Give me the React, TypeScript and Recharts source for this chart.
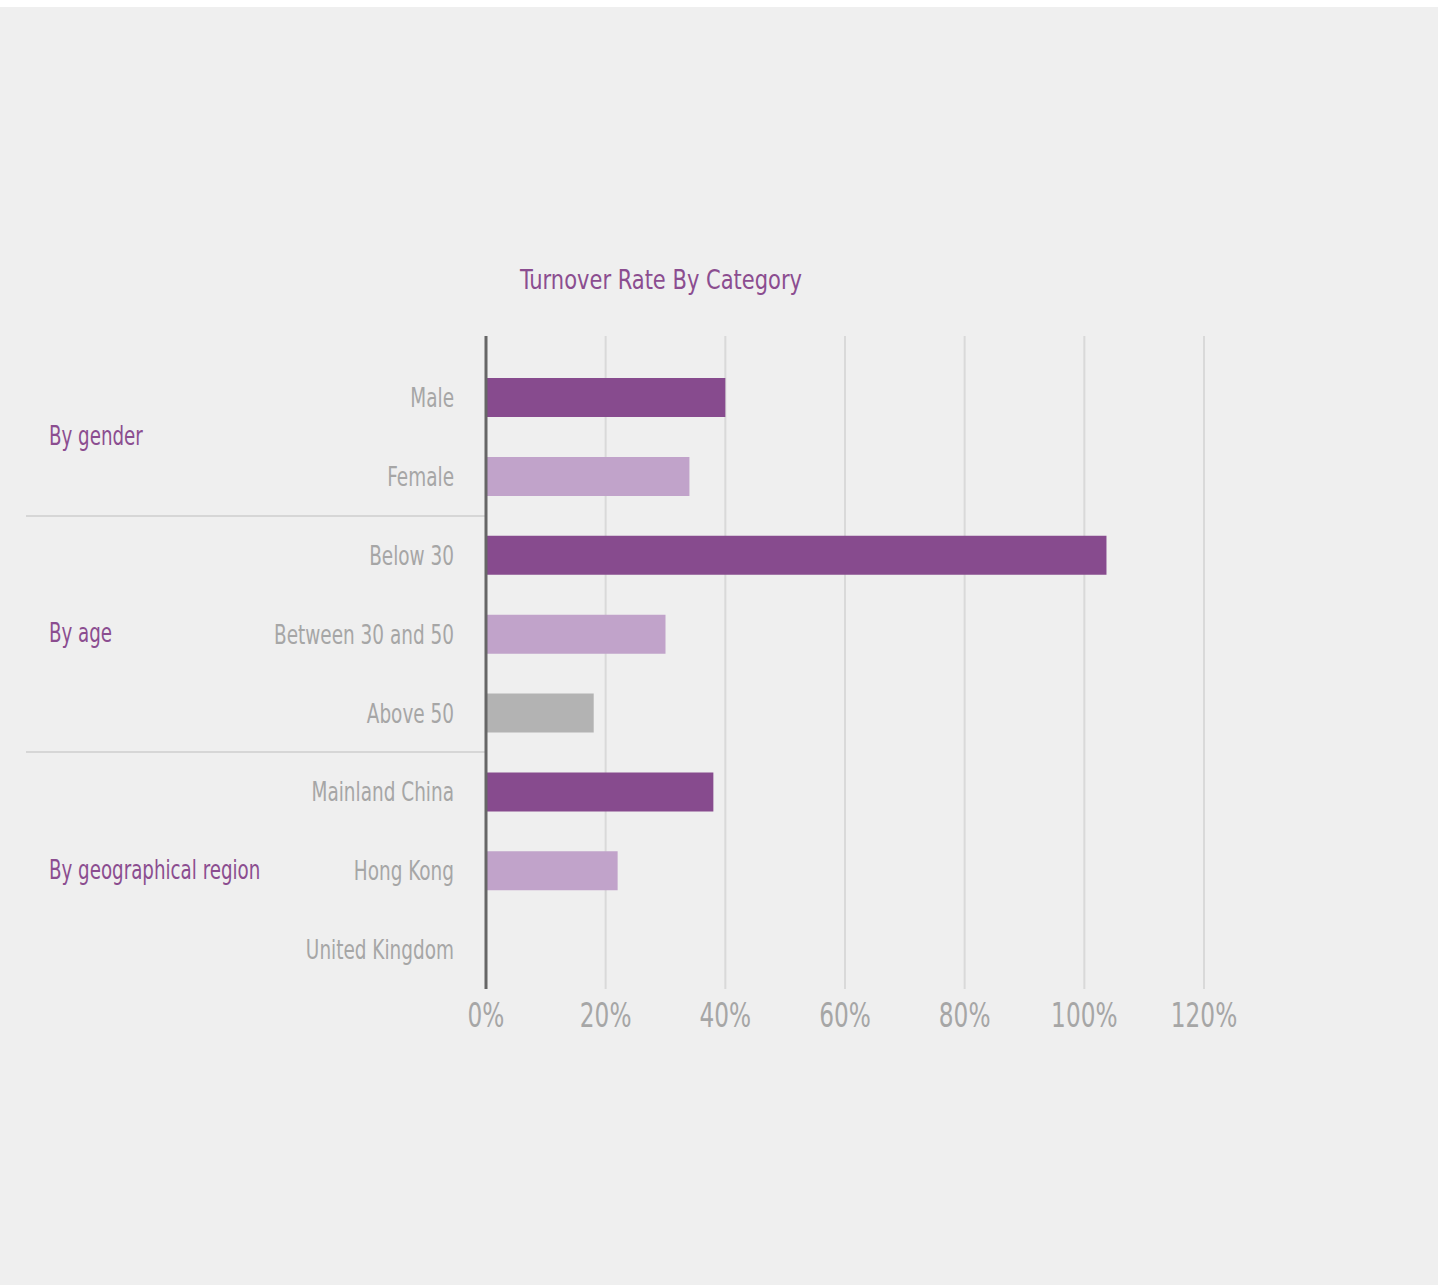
import { Bar, BarChart, CartesianGrid, Cell, XAxis, YAxis } from "recharts";

const categories = [
  "Male",
  "Female",
  "Below 30",
  "Between 30 and 50",
  "Above 50",
  "Mainland China",
  "Hong Kong",
  "United Kingdom",
];
const rates = [40, 34, 103.7, 30, 18, 38, 22, 0];
const shades = ["dark", "light", "dark", "light", "grey", "dark", "light", "light"];
const groups = ["By gender", "By age", "By geographical region"];
// index of the row each group label sits beside (fractional = between rows)
const groupRows = [0.5, 3, 6];
const groupBreaks = [2, 5];
const xTicks = [0, 20, 40, 60, 80, 100, 120];

const COLORS: Record<string, string> = {
  dark: "#874b8e",
  light: "#c1a3ca",
  grey: "#b3b3b3",
};

// no condensed helvetica offline, so squeeze DejaVu Sans Condensed a bit more
const FONT = "'DejaVu Sans Condensed', 'DejaVu Sans', sans-serif";
const PURPLE = "#8b4d90";
const GREY_TEXT = "#a6a6a6";
const SQUEEZE = 0.76;

const W = 1438;
const H = 1278;
const PLOT_TOP = 329;
const PLOT_BOTTOM = 982;
const PAD_TOP = 22;
const BAND = (PLOT_BOTTOM - PLOT_TOP - PAD_TOP) / categories.length;

const data = categories.map((name, i) => ({ name, rate: rates[i], shade: shades[i] }));

function CatTick({ x, y, payload }: any) {
  return (
    <text
      transform={`translate(${x},${y}) scale(${SQUEEZE},1)`}
      textAnchor="end"
      dy="0.355em"
      fill={GREY_TEXT}
      fontSize={27}
      fontFamily={FONT}
    >
      {payload.value}
    </text>
  );
}

function PctTick({ x, y, payload }: any) {
  return (
    <text
      transform={`translate(${x},${y}) scale(${SQUEEZE},1)`}
      textAnchor="middle"
      dy="0.71em"
      fill={GREY_TEXT}
      fontSize={34}
      fontFamily={FONT}
    >
      {`${payload.value}%`}
    </text>
  );
}

export default function App() {
  return (
    <div
      style={{
        position: "absolute",
        left: 0,
        top: 7,
        width: W,
        height: H,
        background: "#efefef",
        fontFamily: FONT,
      }}
    >
      <div
        style={{
          position: "absolute",
          left: 0,
          width: 1322,
          top: 257,
          textAlign: "center",
          color: PURPLE,
          fontSize: 27,
          transform: "scaleX(0.865)",
          transformOrigin: "661px 0",
        }}
      >
        Turnover Rate By Category
      </div>
      {groups.map((g, i) => (
        <div
          key={g}
          style={{
            position: "absolute",
            left: 49,
            top: PLOT_TOP + PAD_TOP + (groupRows[i] + 0.5) * BAND - 18,
            color: PURPLE,
            fontSize: 26,
            lineHeight: "34px",
            whiteSpace: "nowrap",
            transform: "scaleX(0.78)",
            transformOrigin: "0 0",
          }}
        >
          {g}
        </div>
      ))}
      {groupBreaks.map((b) => (
        <div
          key={b}
          style={{
            position: "absolute",
            left: 26,
            width: 460,
            top: PLOT_TOP + PAD_TOP + b * BAND - 1,
            height: 2,
            background: "#d6d6d6",
          }}
        />
      ))}
      <div style={{ position: "absolute", left: 0, top: 0 }}>
        <BarChart
          width={W}
          height={H}
          data={data}
          layout="vertical"
          margin={{ top: PLOT_TOP, right: W - 1204, bottom: H - PLOT_BOTTOM - 60, left: 26 }}
        >
          <CartesianGrid horizontal={false} stroke="#d9d9d9" strokeWidth={2} />
          <XAxis
            type="number"
            domain={[0, 120]}
            ticks={xTicks}
            axisLine={false}
            tickLine={false}
            height={60}
            tickMargin={8}
            tick={<PctTick />}
          />
          <YAxis
            type="category"
            dataKey="name"
            width={460}
            padding={{ top: PAD_TOP, bottom: 0 }}
            axisLine={{ stroke: "#666666", strokeWidth: 3 }}
            tickLine={false}
            tickMargin={26}
            tick={<CatTick />}
          />
          <Bar dataKey="rate" barSize={39} isAnimationActive={false}>
            {data.map((d) => (
              <Cell key={d.name} fill={COLORS[d.shade]} />
            ))}
          </Bar>
        </BarChart>
      </div>
    </div>
  );
}
